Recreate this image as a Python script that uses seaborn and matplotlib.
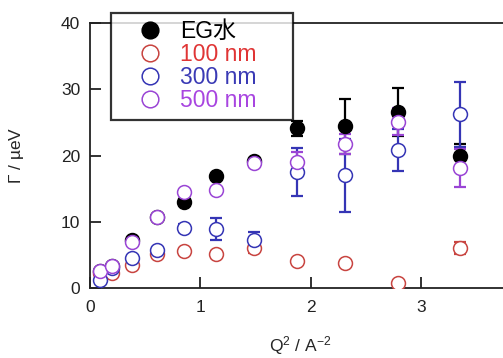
import numpy as np
import pandas as pd
import matplotlib
matplotlib.use('Agg')
import matplotlib.pyplot as plt
import seaborn as sns
from matplotlib.lines import Line2D

# Q^2 values (A^-2)
q2 = [0.09, 0.20, 0.38, 0.61, 0.85, 1.14, 1.49, 1.88, 2.31, 2.79, 3.35]

# EG water
eg = [2.6, 3.3, 7.3, 10.7, 13.0, 16.9, 19.2, 24.1, 24.4, 26.6, 19.9]
eg_err = [0, 0, 0, 0, 0, 0, 0, 1.1, 4.1, 3.6, 1.8]

# 100 nm
n100 = [2.2, 2.3, 3.4, 5.1, 5.6, 5.1, 6.0, 4.1, 3.8, 0.8, 6.0]
n100_err = [0, 0, 0, 0, 0, 0.5, 0.7, 0, 0, 0, 0.9]

# 300 nm
n300 = [1.2, 3.0, 4.5, 5.7, 9.0, 8.9, 7.2, 17.5, 17.0, 20.8, 26.2]
n300_err = [0, 0, 0, 0, 0.6, 1.7, 1.3, 3.6, 5.5, 3.2, 4.9]

# 500 nm
n500 = [2.6, 3.3, 7.0, 10.7, 14.5, 14.8, 18.8, 19.0, 21.7, 25.1, 18.1]
n500_err = [0, 0, 0, 0, 0, 0, 0.5, 1.5, 1.5, 2.0, 2.9]

labels = ['EG水', '100 nm', '300 nm', '500 nm']
colors = ['black', '#c84440', '#3535b5', '#9a45d5']
text_colors = ['black', '#e03535', '#3a3ab5', '#a845e0']

sns.set_style('ticks')
plt.rcParams['font.family'] = ['Liberation Sans', 'Noto Sans CJK JP', 'DejaVu Sans']
plt.rcParams['mathtext.fontset'] = 'custom'
plt.rcParams['mathtext.rm'] = 'Liberation Sans'
plt.rcParams['mathtext.it'] = 'Liberation Sans:italic'
plt.rcParams['mathtext.default'] = 'regular'

fig = plt.figure(figsize=(5.03, 3.58), dpi=100)
ax = fig.add_axes([90 / 503, 70 / 358, 413 / 503, 265 / 358])

frames = []
for lab, y, e in zip(labels, [eg, n100, n300, n500],
                     [eg_err, n100_err, n300_err, n500_err]):
    frames.append(pd.DataFrame({'q2': q2, 'gamma': y, 'err': e, 'sample': lab}))
df = pd.concat(frames, ignore_index=True)

for lab, c in zip(labels, colors):
    d = df[(df['sample'] == lab) & (df['err'] > 0)]
    ax.errorbar(d.q2, d.gamma, yerr=d.err, fmt='none', ecolor=c,
                elinewidth=1.6, capsize=4.5, capthick=1.6, zorder=2)

for lab, c in zip(labels, colors):
    d = df[df['sample'] == lab]
    face = c if lab == 'EG水' else 'white'
    sns.scatterplot(data=d, x='q2', y='gamma', ax=ax, s=100, marker='o',
                    facecolor=face, edgecolor=c, linewidth=1.1, zorder=3,
                    legend=False)

ax.set_xlim(0, 413 / 110.3)
ax.set_ylim(0, 40)
ax.set_xticks([0, 1, 2, 3])
ax.set_yticks([0, 10, 20, 30, 40])
ax.tick_params(direction='in', length=8, width=1.3, labelsize=12.5, pad=7,
               colors='#222222')
ax.tick_params(axis='x', pad=9)
for s in ['left', 'bottom', 'top']:
    ax.spines[s].set_linewidth(1.3)
    ax.spines[s].set_color('#222222')
ax.spines['right'].set_visible(False)

ax.set_xlabel(r'Q$^{2}$ / A$^{-2}$', fontsize=12.5, va='center')
ax.xaxis.set_label_coords(210 / 413, -58 / 265)
ax.set_ylabel(r'$\mathit{\Gamma}$ / µeV', fontsize=12.5, va='center')
ax.yaxis.set_label_coords(-73 / 413, 0.5)

handles = []
for lab, c in zip(labels, colors):
    face = c if lab == 'EG水' else 'none'
    handles.append(Line2D([], [], marker='o', linestyle='none', markersize=12,
                          markerfacecolor=face, markeredgecolor=c,
                          markeredgewidth=1.1))
# legend box: 111..293 px wide, top at 12 px
leg = fig.legend(handles, labels, loc='upper left',
                 bbox_to_anchor=(111 / 503, 1 - 13 / 358, 182 / 503, 0.0),
                 bbox_transform=fig.transFigure, mode='expand',
                 fontsize=16.5, frameon=True, fancybox=False, borderaxespad=0,
                 handletextpad=-0.1, labelspacing=0.0, borderpad=0.32,
                 handlelength=2.8)
leg.get_frame().set_edgecolor('black')
leg.get_frame().set_linewidth(1.6)
for t, c in zip(leg.get_texts(), text_colors):
    t.set_color(c)

fig.savefig('out.png', dpi=100)
